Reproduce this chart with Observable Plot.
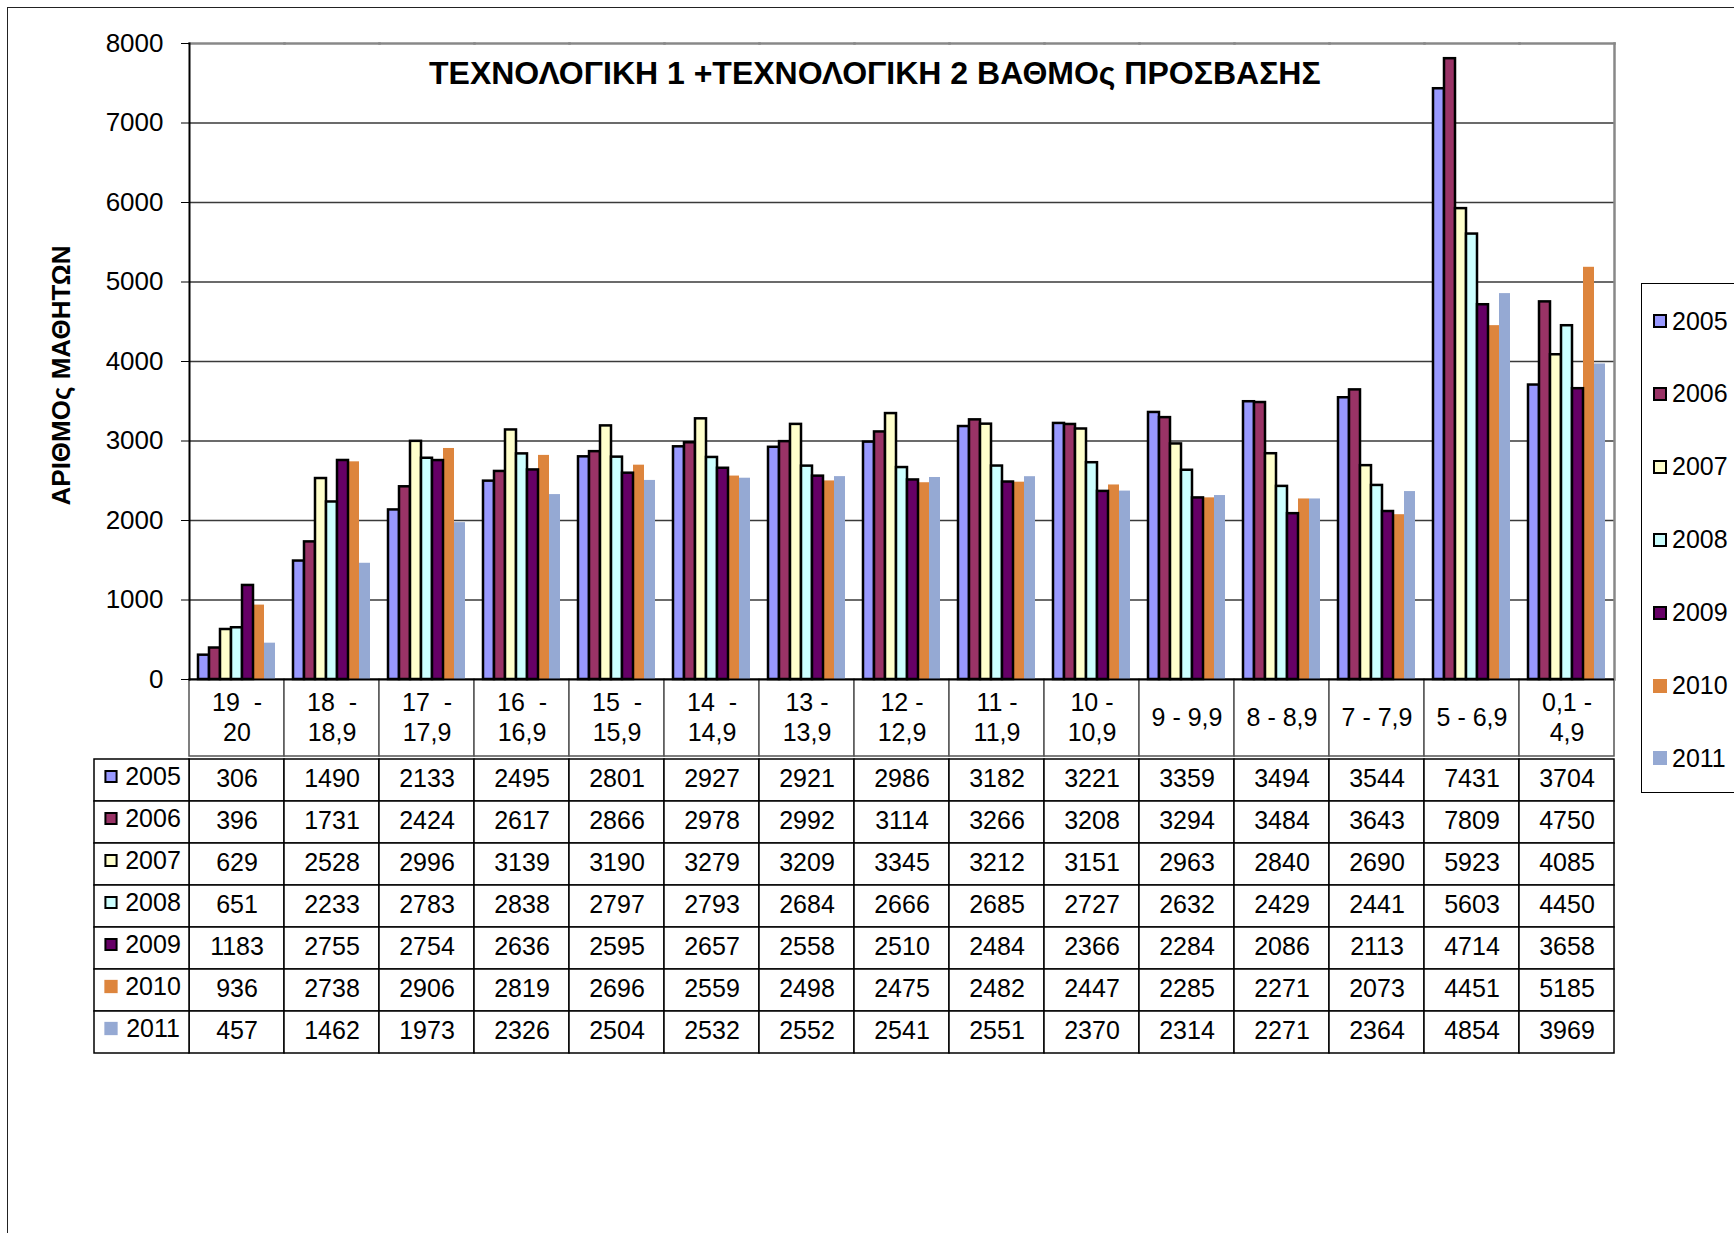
<!DOCTYPE html>
<html>
<head>
<meta charset="utf-8">
<script src="https://cdn.jsdelivr.net/npm/d3@7"></script>
<script src="https://cdn.jsdelivr.net/npm/@observablehq/plot@0.6"></script>
<style>
  html, body { margin: 0; padding: 0; background: #fff; }
  body { width: 1734px; height: 1233px; overflow: hidden; font-family: "Liberation Sans", Arial, sans-serif; }
  #root { position: relative; width: 1734px; height: 1233px; }
  #root svg { position: absolute; left: 0; overflow: visible; }
  #outer { position: absolute; left: 7px; top: 7px; width: 1740px; height: 1240px; border-left: 1.5px solid #222; border-top: 1.5px solid #222; }
  #title { position: absolute; left: 429px; top: 53px; white-space: nowrap; font-weight: bold; font-size: 32px; line-height: 40px; color: #000; }
  #legend { position: absolute; left: 1641px; top: 283px; width: 120px; height: 508px; border: 1.5px solid #000; background: #fff; }
  .li { position: absolute; left: 11px; height: 30px; display: flex; align-items: center; font-size: 25px; color: #000; }
  .sw { width: 10px; height: 10px; margin-right: 5px; box-sizing: content-box; }
</style>
</head>
<body>
<div id="root">
  <div id="outer"></div>
</div>
<script>
// ---- data ----
const categories = ["19 - 20", "18 - 18,9", "17 - 17,9", "16 - 16,9", "15 - 15,9", "14 - 14,9", "13 - 13,9", "12 - 12,9", "11 - 11,9", "10 - 10,9", "9 - 9,9", "8 - 8,9", "7 - 7,9", "5 - 6,9", "0,1 - 4,9"];
const categoryLabels = ["19\u00a0\u00a0-\n20", "18\u00a0\u00a0-\n18,9", "17\u00a0\u00a0-\n17,9", "16\u00a0\u00a0-\n16,9", "15\u00a0\u00a0-\n15,9", "14\u00a0\u00a0-\n14,9", "13 -\n13,9", "12 -\n12,9", "11 -\n11,9", "10 -\n10,9", "9 - 9,9", "8 - 8,9", "7 - 7,9", "5 - 6,9", "0,1 -\n4,9"];
const years = ["2005", "2006", "2007", "2008", "2009", "2010", "2011"];
const v2005 = [306, 1490, 2133, 2495, 2801, 2927, 2921, 2986, 3182, 3221, 3359, 3494, 3544, 7431, 3704];
const v2006 = [396, 1731, 2424, 2617, 2866, 2978, 2992, 3114, 3266, 3208, 3294, 3484, 3643, 7809, 4750];
const v2007 = [629, 2528, 2996, 3139, 3190, 3279, 3209, 3345, 3212, 3151, 2963, 2840, 2690, 5923, 4085];
const v2008 = [651, 2233, 2783, 2838, 2797, 2793, 2684, 2666, 2685, 2727, 2632, 2429, 2441, 5603, 4450];
const v2009 = [1183, 2755, 2754, 2636, 2595, 2657, 2558, 2510, 2484, 2366, 2284, 2086, 2113, 4714, 3658];
const v2010 = [936, 2738, 2906, 2819, 2696, 2559, 2498, 2475, 2482, 2447, 2285, 2271, 2073, 4451, 5185];
const v2011 = [457, 1462, 1973, 2326, 2504, 2532, 2552, 2541, 2551, 2370, 2314, 2271, 2364, 4854, 3969];
const yearColors = ["#9999FF", "#993366", "#FFFFCC", "#CCFFFF", "#660066", "#DD853D", "#95A9D3"];
const outlinedYears = ["2005", "2006", "2007", "2008", "2009"];
const yTicks = [0, 1000, 2000, 3000, 4000, 5000, 6000, 7000, 8000];
const chartTitle = "ΤΕΧΝΟΛΟΓΙΚΗ 1 +ΤΕΧΝΟΛΟΓΙΚΗ 2 ΒΑΘΜΟς ΠΡΟΣΒΑΣΗΣ";
const yTitle = "ΑΡΙΘΜΟς ΜΑΘΗΤΩΝ";

// ---- build tidy table ----
const series = [v2005, v2006, v2007, v2008, v2009, v2010, v2011];
const tidy = [];
years.forEach((yr, j) => categories.forEach((c, i) => tidy.push({cat: c, year: yr, value: series[j][i]})));
const outlined = tidy.filter(d => outlinedYears.includes(d.year));
const plain = tidy.filter(d => !outlinedYears.includes(d.year));

const FONT = "'Liberation Sans', Arial, sans-serif";
const W = 1734, L = 186, R = 117;
const colW = (W - L - R) / categories.length;
const baseStyle = {fontFamily: FONT, fontSize: "25px", background: "transparent", overflow: "visible", color: "#000"};
const root = document.getElementById("root");

// ---- bar chart ----
const bars = Plot.plot({
  width: W, height: 680,
  marginLeft: L, marginRight: R, marginTop: 43, marginBottom: 1,
  style: baseStyle,
  fx: {domain: categories, padding: 0, axis: null, label: null},
  x: {domain: years, paddingInner: 0, paddingOuter: 0.72, axis: null},
  y: {domain: [0, 8000], axis: null},
  color: {domain: years, range: yearColors},
  marks: [
    Plot.ruleY(yTicks.filter(t => t > 0 && t < 8000), {stroke: "#3a3a3a", strokeWidth: 1.4}),
    Plot.barY(plain, {fx: "cat", x: "year", y: "value", fill: "year"}),
    Plot.barY(outlined, {fx: "cat", x: "year", y: "value", fill: "year", stroke: "#000", strokeWidth: 2.5}),
    Plot.frame({anchor: "top", stroke: "#888", strokeWidth: 2.5}),
    Plot.frame({anchor: "right", stroke: "#888", strokeWidth: 2.5, facetAnchor: "right"}),
    Plot.frame({anchor: "left", stroke: "#000", strokeWidth: 2, facetAnchor: "left"}),
    Plot.ruleY([0], {stroke: "#000", strokeWidth: 2}),
    Plot.axisY({ticks: yTicks, tickSize: 8, tickPadding: 18, fontSize: 26, label: null, tickFormat: d => String(d)}),
    Plot.text([yTitle], {text: d => d, frameAnchor: "left", textAnchor: "middle", rotate: -90, dx: -128, dy: 14, fontWeight: "bold", fontSize: 26, facetAnchor: "left"})
  ]
});
bars.style.top = "0px";

// ---- header row (category labels) ----
const header = Plot.plot({
  width: W, height: 78,
  marginLeft: L - colW, marginRight: R, marginTop: 0, marginBottom: 1,
  style: baseStyle,
  x: {domain: ["key", ...categories], padding: 0, axis: null},
  marks: [
    Plot.cell(categories, {x: d => d, fill: "white", stroke: "#555", strokeWidth: 1.5}),
    Plot.text(categories, {x: d => d, text: (d, i) => categoryLabels[i], fontSize: 25, lineHeight: 1.2, dy: -2})
  ]
});
header.style.top = "679px";
root.appendChild(header);
// the bar chart (with the category axis line) sits above the header cells
root.appendChild(bars);

// ---- data table ----
const keyCol = years.map(y => ({key: "key", year: y}));
const table = Plot.plot({
  width: W, height: 302,
  marginLeft: L - colW, marginRight: R, marginTop: 1, marginBottom: 1,
  style: baseStyle,
  x: {domain: ["key", ...categories], padding: 0, axis: null},
  y: {domain: years, padding: 0, axis: null},
  color: {domain: years, range: yearColors},
  marks: [
    Plot.cell(tidy, {x: "cat", y: "year", fill: "white", stroke: "#000", strokeWidth: 1.5}),
    Plot.cell(keyCol, {x: "key", y: "year", fill: "white", stroke: "#000", strokeWidth: 1.5}),
    Plot.text(tidy, {x: "cat", y: "year", text: d => String(d.value), fontSize: 25, dy: -2}),
    Plot.dot(keyCol.filter(d => outlinedYears.includes(d.year)), {x: "key", y: "year", fill: "year", stroke: "#000", strokeWidth: 2, symbol: "square", r: 6.3, dx: -31, dy: -4}),
    Plot.dot(keyCol.filter(d => !outlinedYears.includes(d.year)), {x: "key", y: "year", fill: "year", symbol: "square", r: 7.5, dx: -31, dy: -4}),
    Plot.text(keyCol, {x: "key", y: "year", text: "year", fontSize: 25, dx: 11, dy: -4})
  ]
});
table.style.top = "755px";
root.appendChild(table);

// ---- title ----
const t = document.createElement("div");
t.id = "title";
t.textContent = chartTitle;
root.appendChild(t);

// ---- legend ----
const lg = document.createElement("div");
lg.id = "legend";
years.forEach((y, i) => {
  const item = document.createElement("div");
  item.className = "li";
  item.style.top = (22 + i * 72.9) + "px";
  const sw = document.createElement("span");
  sw.className = "sw";
  sw.style.background = yearColors[i];
  sw.style.border = outlinedYears.includes(y) ? "2px solid #000" : "2px solid " + yearColors[i];
  const tx = document.createElement("span");
  tx.textContent = y;
  item.appendChild(sw);
  item.appendChild(tx);
  lg.appendChild(item);
});
root.appendChild(lg);
</script>
</body>
</html>
